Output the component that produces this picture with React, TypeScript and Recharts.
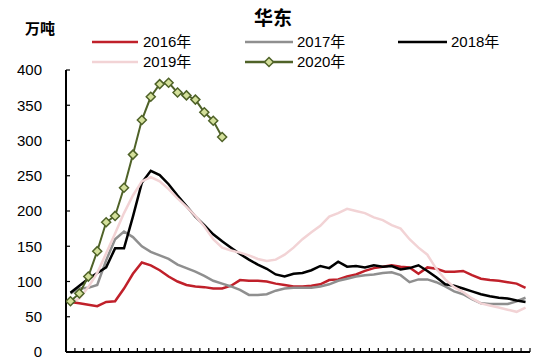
import React from 'react';
import { LineChart, Line, XAxis, YAxis } from 'recharts';

const weeks = [
  1, 2, 3, 4, 5, 6, 7, 8, 9, 10, 11, 12, 13, 14, 15, 16, 17, 18, 19, 20, 21, 22, 23, 24, 25, 26,
  27, 28, 29, 30, 31, 32, 33, 34, 35, 36, 37, 38, 39, 40, 41, 42, 43, 44, 45, 46, 47, 48, 49, 50, 51, 52,
];

const s2016 = [71, 69, 67, 65, 71, 72, 90, 111, 127, 123, 116, 107, 100, 95, 93, 92, 90, 90, 94, 102, 101, 101, 100, 97, 95, 93,
  93, 94, 96, 102, 103, 107, 110, 115, 119, 121, 123, 121, 120, 111, 120, 118, 114, 114, 115, 109, 104, 102, 101, 99, 97, 91];
const s2017 = [83, 90, 91, 95, 130, 160, 171, 163, 150, 142, 137, 132, 124, 119, 114, 108, 101, 97, 93, 88, 81, 81, 82, 87, 90, 91,
  91, 91, 93, 96, 101, 104, 107, 109, 110, 112, 113, 109, 99, 103, 103, 99, 93, 86, 82, 75, 69, 68, 68, 68, 72, 77];
const s2018 = [84, 94, 104, 112, 120, 147, 147, 192, 240, 257, 251, 238, 222, 207, 192, 180, 167, 157, 148, 139, 131, 124, 118, 110, 107, 111,
  112, 116, 122, 119, 128, 121, 122, 120, 123, 121, 122, 117, 119, 123, 115, 106, 96, 94, 90, 86, 82, 79, 77, 76, 73, 71];
const s2019 = [70, 76, 92, 112, 140, 168, 197, 222, 242, 248, 242, 231, 218, 206, 193, 178, 160, 148, 144, 141, 137, 132, 129, 131, 138, 148,
  160, 170, 179, 192, 197, 203, 200, 197, 191, 187, 180, 175, 160, 148, 138, 118, 103, 92, 85, 76, 69, 66, 63, 60, 57, 63];
const s2020 = [72, 83, 107, 143, 184, 193, 233, 280, 329, 362, 380, 382, 368, 364, 358, 340, 328, 305];

const yTicks = [0, 50, 100, 150, 200, 250, 300, 350, 400];

const seriesNames = ['2016年', '2017年', '2018年', '2019年', '2020年'];
const seriesColors = ['#c0202a', '#8f8f8f', '#000000', '#f2d3d5', '#4f6228'];
const markerFill = '#d4e09b';

const data = weeks.map((w, i) => ({
  x: i,
  week: w,
  y2016: s2016[i],
  y2017: s2017[i],
  y2018: s2018[i],
  y2019: s2019[i],
  y2020: i < s2020.length ? s2020[i] : null,
}));

const xTicks = weeks.map((_, i) => i - 0.5).concat([weeks.length - 0.5]);

const FONT = '"Liberation Sans", Arial, "Noto Sans CJK SC", sans-serif';
const CJK = '"Noto Sans CJK SC", "Liberation Sans", sans-serif';

const Diamond = (props: any) => {
  const { cx, cy, index } = props;
  if (cx == null || cy == null || props.value == null) return <g key={index} />;
  const r = 4.5;
  return (
    <polygon
      key={index}
      points={`${cx},${cy - r} ${cx + r},${cy} ${cx},${cy + r} ${cx - r},${cy}`}
      fill={markerFill}
      stroke={seriesColors[4]}
      strokeWidth={1.5}
    />
  );
};

const legendPos = [
  { x1: 92, x2: 138, y: 42, tx: 143 },
  { x1: 245, x2: 293, y: 42, tx: 297 },
  { x1: 398, x2: 447, y: 42, tx: 451 },
  { x1: 92, x2: 138, y: 62, tx: 143 },
  { x1: 245, x2: 293, y: 62, tx: 297 },
];

const Overlay = () => (
  <svg width={550} height={75} style={{ position: 'absolute', left: 0, top: 0 }}>
    <text x={273} y={25} textAnchor="middle" fontFamily={CJK} fontWeight="bold" fontSize={19} fill="#000">
      华东
    </text>
    <text x={40} y={34} textAnchor="middle" fontFamily={CJK} fontWeight="bold" fontSize={15} fill="#000">
      万吨
    </text>
    {seriesNames.map((n, i) => {
      const p = legendPos[i];
      const mx = (p.x1 + p.x2) / 2;
      return (
        <g key={n}>
          <line x1={p.x1} x2={p.x2} y1={p.y} y2={p.y} stroke={seriesColors[i]} strokeWidth={2.5} />
          {i === 4 && (
            <polygon
              points={`${mx},${p.y - 4.5} ${mx + 4.5},${p.y} ${mx},${p.y + 4.5} ${mx - 4.5},${p.y}`}
              fill={markerFill}
              stroke={seriesColors[4]}
              strokeWidth={1.5}
            />
          )}
          <text x={p.tx} y={p.y + 5} fontFamily={FONT} fontSize={15} fill="#000">
            {n}
          </text>
        </g>
      );
    })}
  </svg>
);

export default function App() {
  return (
    <div style={{ position: 'absolute', left: 0, top: 0, width: 550, height: 363, background: '#fff' }}>
      <LineChart width={550} height={363} data={data} margin={{ top: 70, right: 20, bottom: 10, left: 0 }}>
        <XAxis
          dataKey="x"
          type="number"
          domain={[-0.5, weeks.length - 0.5]}
          ticks={xTicks}
          tickFormatter={() => ''}
          tickSize={-4}
          height={1}
          axisLine={{ stroke: '#000', strokeWidth: 2 }}
          tickLine={{ stroke: '#000', strokeWidth: 1.2 }}
          interval={0}
          allowDataOverflow
        />
        <YAxis
          domain={[0, 400]}
          ticks={yTicks}
          width={66}
          tickSize={-4}
          tickMargin={28}
          axisLine={{ stroke: '#000', strokeWidth: 2 }}
          tickLine={{ stroke: '#000', strokeWidth: 1.2 }}
          tick={{ fill: '#000', fontSize: 15, fontFamily: FONT }}
          interval={0}
        />
        <Line type="linear" dataKey="y2016" stroke={seriesColors[0]} strokeWidth={2.5} dot={false} isAnimationActive={false} />
        <Line type="linear" dataKey="y2017" stroke={seriesColors[1]} strokeWidth={2.5} dot={false} isAnimationActive={false} />
        <Line type="linear" dataKey="y2018" stroke={seriesColors[2]} strokeWidth={2.5} dot={false} isAnimationActive={false} />
        <Line type="linear" dataKey="y2019" stroke={seriesColors[3]} strokeWidth={2.5} dot={false} isAnimationActive={false} />
        <Line
          type="linear"
          dataKey="y2020"
          stroke={seriesColors[4]}
          strokeWidth={2}
          dot={<Diamond />}
          isAnimationActive={false}
          connectNulls={false}
        />
      </LineChart>
      <Overlay />
    </div>
  );
}
